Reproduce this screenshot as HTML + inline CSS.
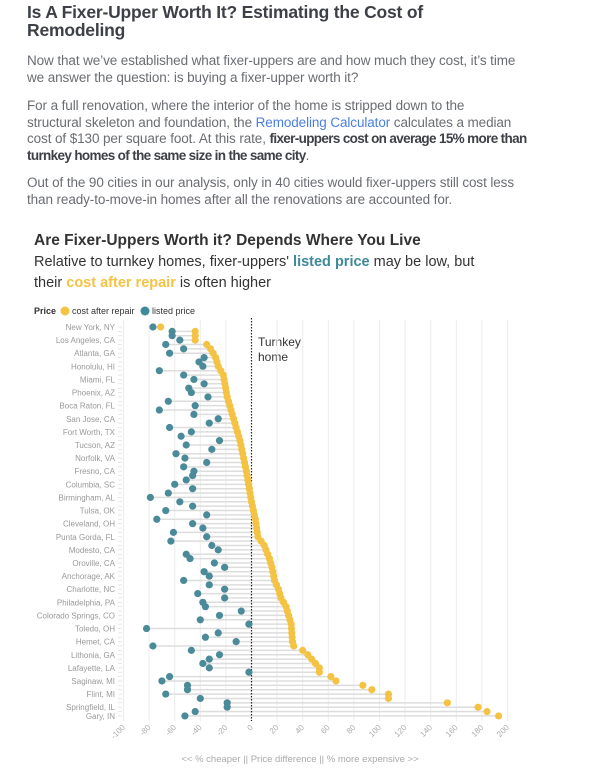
<!DOCTYPE html>
<html><head><meta charset="utf-8">
<style>
body{margin:0;background:#fff;width:600px;height:769px;overflow:hidden;font-family:"Liberation Sans",sans-serif;}
.t{position:absolute;left:27px;top:4px;font-size:17.5px;font-weight:bold;color:#3d4046;line-height:17.5px;width:440px;letter-spacing:-0.2px}
.p{position:absolute;left:27px;font-size:13.5px;color:#6a6d72;line-height:16.5px;white-space:nowrap;letter-spacing:-0.1px}
.p b{color:#3d4046;letter-spacing:-0.65px}
.p a{color:#4a7fe0;text-decoration:none}
</style></head><body>
<div class="t">Is A Fixer-Upper Worth It? Estimating the Cost of Remodeling</div>
<div class="p" style="top:53px">Now that we’ve established what fixer-uppers are and how much they cost, it’s time<br>we answer the question: is buying a fixer-upper worth it?</div>
<div class="p" style="top:98px">For a full renovation, where the interior of the home is stripped down to the<br>structural skeleton and foundation, the <a>Remodeling Calculator</a> calculates a median<br>cost of $130 per square foot. At this rate, <b>fixer-uppers cost on average 15% more than</b><br><b>turnkey homes of the same size in the same city</b>.</div>
<div class="p" style="top:175px">Out of the 90 cities in our analysis, only in 40 cities would fixer-uppers still cost less<br>than ready-to-move-in homes after all the renovations are accounted for.</div>
<svg id="c" width="600" height="769" style="position:absolute;left:0;top:0" xmlns="http://www.w3.org/2000/svg" font-family="Liberation Sans, sans-serif">
<text x="34" y="245" font-size="15.5" font-weight="bold" fill="#333">Are Fixer-Uppers Worth it? Depends Where You Live</text>
<text x="34" y="266" font-size="14.5" fill="#333">Relative to turnkey homes, fixer-uppers' <tspan fill="#3f8a9a" font-weight="bold">listed price</tspan> may be low, but</text>
<text x="34" y="287" font-size="14.5" fill="#333">their <tspan fill="#f5c344" font-weight="bold">cost after repair</tspan> is often higher</text>
<text x="34" y="314" font-size="9" font-weight="bold" fill="#333">Price</text>
<circle cx="65" cy="311" r="4.5" fill="#f5c344"/><text x="72" y="314" font-size="9" fill="#333">cost after repair</text>
<circle cx="145" cy="311" r="4.5" fill="#3f8a9a"/><text x="152" y="314" font-size="9" fill="#333">listed price</text>
<text x="258" y="346" font-size="12" fill="#333">Turnkey</text>
<text x="258" y="361" font-size="12" fill="#333">home</text>
<text x="300" y="762" font-size="9.5" fill="#aaa" text-anchor="middle">&lt;&lt; % cheaper || Price difference || % more expensive &gt;&gt;</text>
<g id="g"></g>
</svg>
<script>
var names=["New York, NY","Los Angeles, CA","Atlanta, GA","Honolulu, HI","Miami, FL","Phoenix, AZ","Boca Raton, FL","San Jose, CA","Fort Worth, TX","Tucson, AZ","Norfolk, VA","Fresno, CA","Columbia, SC","Birmingham, AL","Tulsa, OK","Cleveland, OH","Punta Gorda, FL","Modesto, CA","Oroville, CA","Anchorage, AK","Charlotte, NC","Philadelphia, PA","Colorado Springs, CO","Toledo, OH","Hemet, CA","Lithonia, GA","Lafayette, LA","Saginaw, MI","Flint, MI","Springfield, IL"];
var blue=[-77,-62,-62,-56,-67,-53,-64,-37,-41,-38,-72,-53,-45,-37,-49,-47,-34,-65,-44,-72,-45,-26,-33,-64,-47,-55,-25,-51,-31,-59,-52,-35,-53,-45,-46,-51,-60,-46,-65,-79,-56,-46,-67,-35,-74,-46,-38,-61,-35,-63,-31,-26,-51,-48,-29,-21,-37,-33,-53,-33,-21,-42,-21,-38,-36,-8,-25,-40,-2,-82,-26,-36,-12,-77,-47,-25,-33,-38,-33,-2,-64,-70,-50,-50,-67,-40,-19,-19,-44,-52];
var kp=[[0,-71],[1,-44],[3,-44],[4,-35],[5,-32],[7,-28],[9,-26],[11,-22],[16,-19],[20,-15],[23,-12],[26,-9],[33,-4],[40,0],[44,3],[48,5],[50,10],[53,14],[55,16],[58,18],[60,21],[62,23],[64,27],[66,29],[68,31],[72,32],[73,33],[74,40],[75,44],[76,47],[77,50],[78,53],[79,53],[80,62],[81,66],[82,87],[83,94],[84,107],[85,107],[86,153],[87,177],[88,184],[89,193]];
function yel(r){for(var i=0;i<kp.length-1;i++){if(r>=kp[i][0]&&r<=kp[i+1][0]){var a=kp[i],b=kp[i+1];return a[1]+(b[1]-a[1])*(r-a[0])/(b[0]-a[0]);}}return 0;}
function X(v){return 251.5+v*1.28;}
function Y(r){return 327+r*4.37;}
var s="";
for(var v=-100;v<=200;v+=20){if(v==0)continue;s+='<line x1="'+X(v)+'" y1="320" x2="'+X(v)+'" y2="721" stroke="#ececec" stroke-width="1"/>';}
for(var r=0;r<90;r++){s+='<line x1="118" y1="'+Y(r)+'" x2="122" y2="'+Y(r)+'" stroke="#ddd" stroke-width="0.7"/>';}
for(var r=0;r<90;r++){var a=X(blue[r]),b=X(yel(r));s+='<line x1="'+a+'" y1="'+Y(r)+'" x2="'+b+'" y2="'+Y(r)+'" stroke="#ddd" stroke-width="1.5"/>';}
s+='<line x1="251.5" y1="318" x2="251.5" y2="721" stroke="#222" stroke-width="1.2" stroke-dasharray="1.5,1.5"/>';
for(var r=0;r<90;r++){s+='<circle cx="'+X(yel(r))+'" cy="'+Y(r)+'" r="3.6" fill="#f5c344"/>';}
for(var r=0;r<90;r++){s+='<circle cx="'+X(blue[r])+'" cy="'+Y(r)+'" r="3.6" fill="#4b8a99"/>';}
for(var i=0;i<names.length;i++){s+='<text x="115" y="'+(Y(i*3)+3)+'" font-size="8" fill="#999" text-anchor="end">'+names[i]+'</text>';}
s+='<text x="115" y="'+(Y(89)+3)+'" font-size="8" fill="#999" text-anchor="end">Gary, IN</text>';
for(var v=-100;v<=200;v+=20){var x=X(v)+2,y=728;s+='<text x="'+x+'" y="'+y+'" font-size="8" fill="#aaa" text-anchor="end" transform="rotate(-45 '+x+' '+y+')">'+v+'</text>';}
document.getElementById("g").innerHTML=s;
</script>
</body></html>
